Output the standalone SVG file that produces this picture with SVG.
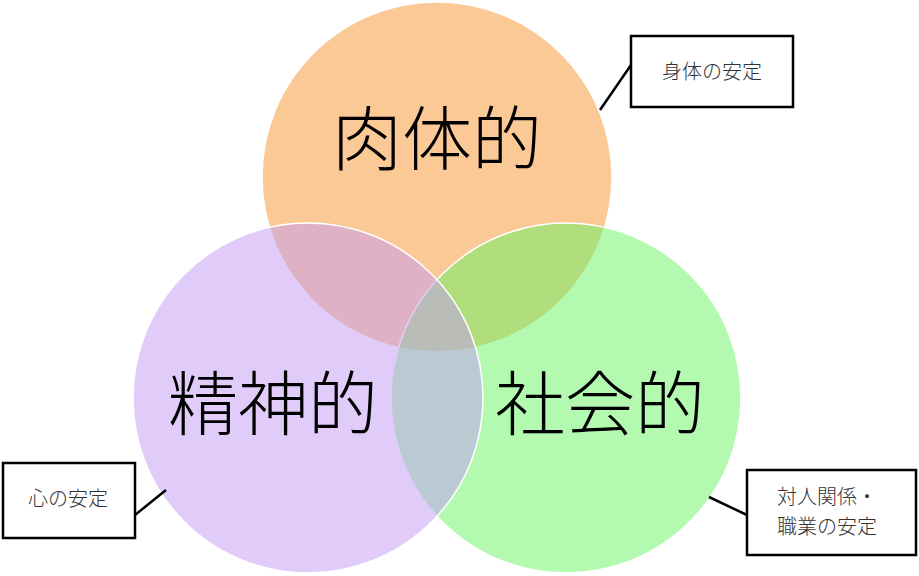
<svg xmlns="http://www.w3.org/2000/svg" width="919" height="576" viewBox="0 0 919 576">
<style>
.c{fill-opacity:0.5;stroke:#fff;stroke-width:1.5}
.big{font-family:"Noto Sans CJK JP","Noto Sans CJK SC",sans-serif;font-size:70px;font-weight:300;fill:#000;text-anchor:middle}
.box{fill:#fff;stroke:#000;stroke-width:2.5}
.lbl{font-family:"Noto Sans CJK JP","Noto Sans CJK SC",sans-serif;font-size:20px;font-weight:300;fill:#333}
.ln{stroke:#000;stroke-width:2.5;fill:none}
</style>
<rect width="919" height="576" fill="#fff"/>
<g id="physical"><circle class="c" cx="437" cy="177" r="175" fill="#F8932E"/></g>
<g id="social"><circle class="c" cx="566" cy="398" r="175" fill="#68F462"/></g>
<g id="mental"><circle class="c" cx="308" cy="398" r="175" fill="#C49AF4"/></g>
<g id="labels">
<text class="big" x="437" y="165">肉体的</text>
<text class="big" x="273" y="430">精神的</text>
<text class="big" x="600" y="430">社会的</text>
</g>
<g id="connectors">
<line class="ln" x1="631" y1="65" x2="600" y2="110"/>
<line class="ln" x1="135" y1="515" x2="166" y2="490"/>
<line class="ln" x1="747" y1="515" x2="709" y2="497"/>
</g>
<g id="note-body">
<rect class="box" x="631" y="36" width="162" height="71"/>
<text class="lbl" x="712" y="79" text-anchor="middle">身体の安定</text>
</g>
<g id="note-mind">
<rect class="box" x="3" y="463" width="132" height="75"/>
<text class="lbl" x="68" y="506" text-anchor="middle">心の安定</text>
</g>
<g id="note-social">
<rect class="box" x="747" y="470" width="169" height="85"/>
<text class="lbl" x="777" y="504">対人関係・</text>
<text class="lbl" x="777" y="534">職業の安定</text>
</g>
</svg>
